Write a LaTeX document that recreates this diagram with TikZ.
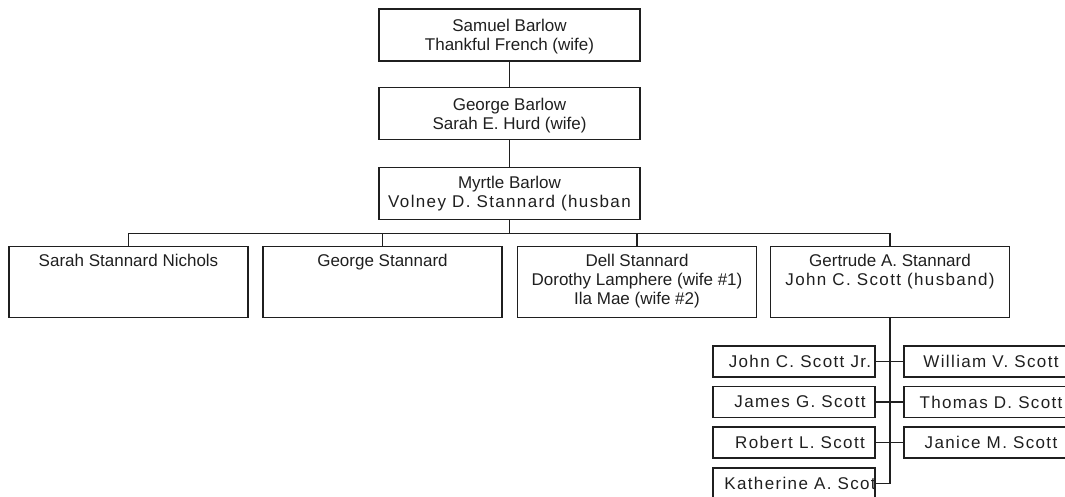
\documentclass[tikz,border=0pt]{standalone}
\usepackage{fontspec}
\setmainfont{Liberation Sans}
\newfontfamily\spacedfont[LetterSpace=8]{Liberation Sans}
\tikzset{person/.style={draw, rectangle, inner sep=0pt, minimum width=261pt,
      minimum height=52pt, align=center, font=\fontsize{17pt}{19pt}\selectfont}}
\tikzset{family/.style={person, minimum width=239pt, minimum height=71pt}}
\tikzset{kid/.style={person, minimum width=162pt, minimum height=31pt,
      font=\fontsize{17pt}{19pt}\spacedfont}}
\newcommand{\toptext}[1]{\parbox[t][56pt][t]{236pt}{\centering #1}}
\newcommand{\kidtext}[1]{\makebox[0pt]{\hspace*{12pt}#1}}

\begin{document}
\begin{tikzpicture}[x=1pt,y=-1pt,line width=1.6pt,color=black!88]
    \useasboundingbox (0,0) rectangle (1065,497);
    % Barlow line
    \node[person] (samuel) at (509.5,35) {\rule{0pt}{16pt}Samuel Barlow\\Thankful French (wife)};
    \node[person] (george) at (509.5,113.5) {\rule{0pt}{16pt}George Barlow\\Sarah E. Hurd (wife)};
    \node[person] (myrtle) at (509.5,193.5) {Myrtle Barlow\\{\spacedfont Volney D. Stannard (husban}};
    \draw (samuel) -- (george);
    \draw (george) -- (myrtle);

    % Stannard children
    \node[family] (sarah) at (128.5,282) {\toptext{Sarah Stannard Nichols}};
    \node[family] (georges) at (382.5,282) {\toptext{George Stannard}};
    \node[family] (dell) at (637,282) {\toptext{Dell Stannard\\Dorothy Lamphere (wife \#1)\\Ila Mae (wife \#2)}};
    \node[family] (gertrude) at (890,282) {\toptext{Gertrude A. Stannard\\{\spacedfont John C. Scott (husband)}}};
    \coordinate (bar) at ([yshift=-13pt]myrtle.south);
    \draw (myrtle.south) -- (bar);
    \foreach \k in {sarah,georges,dell,gertrude}
      \draw (bar) -| (\k.north);

    % Scott children
    \node[kid] (john) at (794,361.5) {\kidtext{John C. Scott Jr.}};
    \node[kid] (william) at (985,361.5) {\kidtext{William V. Scott}};
    \node[kid] (james) at (794,402) {\kidtext{James G. Scott}};
    \node[kid] (thomas) at (985,402) {\kidtext{Thomas D. Scott}};
    \node[kid] (robert) at (794,442.5) {\kidtext{Robert L. Scott}};
    \node[kid] (janice) at (985,442.5) {\kidtext{Janice M. Scott}};
    \node[kid] (katherine) at (794,483.5) {\kidtext{Katherine A. Scot}};
    \coordinate (trunk) at (gertrude.south |- katherine.east);
    \draw (gertrude.south) -- (trunk) -- (katherine.east);
    \foreach \l/\r in {john/william,james/thomas,robert/janice}
      \draw (\l) -- (\r);
\end{tikzpicture}
\end{document}
